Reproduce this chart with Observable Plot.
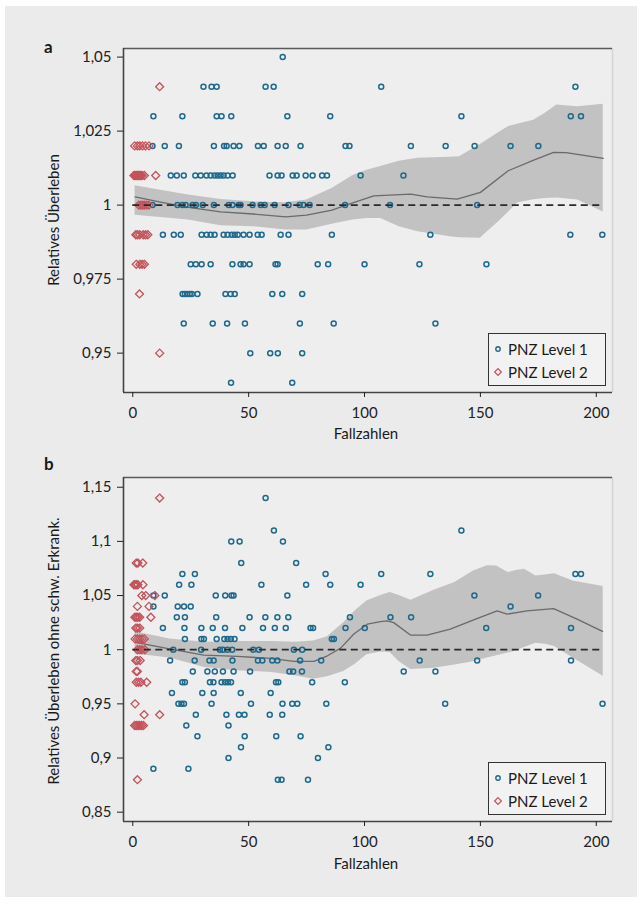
<!DOCTYPE html>
<html>
<head>
<meta charset="utf-8">
<script src="https://cdn.jsdelivr.net/npm/d3@7"></script>
<script src="https://cdn.jsdelivr.net/npm/@observablehq/plot@0.6"></script>
<style>
  html, body { margin: 0; padding: 0; background: #ffffff; }
  #root { position: relative; width: 642px; height: 903px; font-family: Lato, "Open Sans", sans-serif; color: #1a1a1a; overflow: hidden; }
  #bg { position: absolute; left: 5px; top: 6px; width: 632px; height: 891px; background: #ebebeb; }
  .panel { position: absolute; left: 0; }
  .letter { position: absolute; font-weight: bold; font-size: 17px; line-height: 1; }
  .ylab { position: absolute; font-size: 15px; white-space: nowrap; transform: translate(-50%, -50%) rotate(-90deg); }
  .xlab { position: absolute; font-size: 15px; white-space: nowrap; transform: translate(-50%, -50%); }
  .legend { position: absolute; width: 116px; height: 51px; border: 1.3px solid #333; background: #f2f2f2; }
  .legend .row { position: absolute; left: 0; height: 20px; display: flex; align-items: center; font-size: 15px; white-space: nowrap; }
  .legend svg { margin-left: 4px; margin-right: 5px; }
</style>
</head>
<body>
<div id="root">
  <div id="bg"></div>
</div>
<script>
// ---------- Panel a data ----------
// each row: [relative survival level, case counts ...]
const aLevel1 = [
  [1.05, 64.7],
  [1.04, 30.5, 34, 36.2, 57.3, 60.8, 107.2, 191],
  [1.03, 8.9, 21.4, 36.2, 38.3, 42.5, 66.7, 85.2, 141.8, 189, 193.4],
  [1.02, 8.5, 13.8, 19.9, 35, 39.4, 40.5, 43.5, 46, 54, 56.5, 62.5, 66, 72.4, 91.8, 93.5, 120, 135, 147.5, 163, 175],
  [1.01, 16.4, 19, 22, 27, 29.3, 31.8, 33.6, 35.3, 36.6, 37.9, 39.2, 40.9, 43.1, 59, 62.5, 64.2, 69, 70.7, 74.6, 77.6, 81.7, 83.8, 98.3, 116.8],
  [1.00, 8.5, 19.3, 21.5, 22.8, 25.8, 27.2, 30.2, 35, 41.4, 43, 45.7, 46.5, 51.7, 55.2, 56.9, 61.2, 67.2, 72, 73.7, 76.3, 91.6, 111, 148.6],
  [0.99, 13, 17.7, 20.7, 29.7, 31.9, 33.6, 35.3, 39.2, 40.9, 42.7, 44, 45.3, 47.8, 50.4, 53.9, 55.6, 63.8, 67.2, 85.9, 128.4, 188.8, 202.6],
  [0.98, 25, 27.2, 29.7, 33.6, 43, 46.5, 47.8, 50.4, 61.6, 62.5, 79.8, 84.3, 100, 123.7, 152.6],
  [0.97, 21.5, 22.5, 23.5, 24.6, 25.5, 27.9, 40, 42.2, 44, 60.2, 64.5, 73.1],
  [0.96, 22, 34.5, 40.7, 48.4, 72.1, 86.7, 130.6],
  [0.95, 50.7, 59.3, 62.6, 73.1],
  [0.94, 42.4, 68.8]
];
const aLevel2 = [
  [1.04, 11.6],
  [1.02, 0.8, 2, 3, 4.2, 5.5, 7],
  [1.01, 0.5, 1, 1.5, 2, 2.5, 3, 3.5, 4, 5, 9.9],
  [1.00, 2.6, 3.5, 4.3, 5, 6, 7],
  [0.99, 1.3, 2, 3, 4.5, 5.5, 6.5],
  [0.98, 1.5, 3, 4, 5],
  [0.97, 2.9],
  [0.95, 11.6]
];
const aBandX  = [1, 12, 24, 38, 52, 66, 75, 86, 95, 101, 107, 115, 123, 137, 141, 150, 153, 158, 162, 166, 173, 178, 183, 192, 203];
const aBandHi = [1.0065, 1.005, 1.0034, 1.0019, 1.0011, 1.0008, 1.0017, 1.0056, 1.0100, 1.0118, 1.013, 1.0148, 1.0158, 1.0162, 1.0163, 1.0205, 1.022, 1.0245, 1.0265, 1.0273, 1.0287, 1.031, 1.0338, 1.0332, 1.0341];
const aBandLo = [0.9966, 0.9958, 0.995, 0.993, 0.9927, 0.9916, 0.9916, 0.9935, 0.995, 0.9955, 0.9955, 0.9927, 0.991, 0.9893, 0.989, 0.9888, 0.991, 0.9945, 0.9975, 1.0007, 1.0018, 1.0022, 1.0024, 1.0017, 0.9977];
const aLineX = [1, 12, 24, 38, 52, 66, 75, 86, 92, 104, 120, 127, 140, 150, 162, 173, 181.6, 187, 203];
const aLineY = [1.0028, 1.001, 0.9992, 0.9977, 0.997, 0.996, 0.9966, 0.9983, 1.0, 1.0031, 1.0037, 1.0028, 1.002, 1.0043, 1.0116, 1.0152, 1.0178, 1.0177, 1.0158];
const aYTicks = [0.95, 0.975, 1, 1.025, 1.05];

// ---------- Panel b data ----------
const bLevel1 = [
  [1.14, 57.3],
  [1.11, 60.9, 141.8],
  [1.10, 42.5, 46.1, 64.8],
  [1.08, 46.8, 70.5],
  [1.07, 21.4, 26.8, 83.2, 107.2, 128.4, 191, 193.4],
  [1.06, 20, 25.3, 55.5, 74.8, 85.2, 98.3],
  [1.05, 8.9, 13.8, 35.8, 39.9, 42.6, 43.5, 66.7, 147.4, 174.9],
  [1.04, 8.9, 19.4, 22.1, 25, 163],
  [1.03, 19, 22.5, 36, 50.4, 57.2, 62.4, 67.1, 93.7, 111.2, 120.1],
  [1.02, 13, 22.3, 29.6, 34.5, 39.8, 47.3, 56.2, 61.3, 66, 76.7, 77.8, 91.8, 100.1, 152.5, 189.1],
  [1.01, 22.5, 29.6, 30.7, 36.2, 39.5, 40.9, 42.3, 43.9, 85.9, 86.8],
  [1.00, 17.5, 29.5, 37.6, 38.9, 40.8, 42.9, 52, 54.4, 69.5, 73.1],
  [0.99, 16.1, 26.7, 33.1, 34.9, 43, 54, 55.9, 60.2, 62.4, 72.2, 81.3, 123.8, 148.6, 189.1],
  [0.98, 25.9, 32.2, 35.4, 38.9, 43.5, 50.6, 67.6, 69.2, 73, 116.9, 130.6],
  [0.97, 21.4, 22.5, 33.3, 34.8, 38.3, 39.8, 41.1, 42.4, 61.8, 62.8, 77.4, 91.5],
  [0.96, 16.9, 30, 34.9, 46.6, 59.5],
  [0.95, 19.7, 21, 22.1, 34, 51, 64.6, 68.8, 71, 83.5, 134.8, 202.7],
  [0.94, 27.2, 40.4, 45.8, 48.2, 59.1, 64.5],
  [0.93, 23.1, 41.3],
  [0.92, 27.9, 48.3, 61.9, 72.4],
  [0.91, 46.7, 84.4],
  [0.90, 41.3, 79.9],
  [0.89, 8.9, 24],
  [0.88, 62.6, 64.2, 75.6]
];
const bLevel2 = [
  [1.14, 11.6],
  [1.08, 1.5, 2.2, 4.3],
  [1.06, 0.5, 1, 1.5, 2.2, 4.4],
  [1.05, 3.9, 5.6, 9.5],
  [1.04, 2, 7],
  [1.03, 0.9, 1.5, 2.2, 3, 7.8],
  [1.02, 1.3, 2, 3],
  [1.01, 1, 2, 3, 4, 5],
  [1.00, 2, 3, 4, 5.2],
  [0.99, 1.3, 2, 3.2],
  [0.98, 1.5, 2],
  [0.97, 1.5, 2.5, 3.5, 6],
  [0.95, 1],
  [0.94, 4.9, 11.6],
  [0.93, 0.8, 1.5, 2.3, 3, 3.8, 4.6],
  [0.88, 2]
];
const bBandX  = [1, 16, 31, 45, 60, 70, 78, 84, 91, 96, 101, 107, 111, 115, 120, 130, 139, 147, 153, 157, 162, 165, 169, 174, 178, 182, 190, 203];
const bBandHi = [1.0167, 1.0099, 1.0068, 1.0075, 1.0075, 1.007, 1.008, 1.012, 1.025, 1.036, 1.045, 1.05, 1.0528, 1.05, 1.0457, 1.055, 1.062, 1.0727, 1.0775, 1.0773, 1.0712, 1.073, 1.0742, 1.068, 1.069, 1.0702, 1.0635, 1.0583];
const bBandLo = [0.996, 0.9923, 0.9836, 0.9806, 0.979, 0.976, 0.9728, 0.975, 0.98, 0.9865, 0.9954, 0.998, 0.9975, 0.989, 0.9817, 0.983, 0.986, 0.989, 0.9924, 0.9945, 0.997, 0.9985, 1.002, 1.006, 1.005, 1.003, 0.9924, 0.9756];
const bLineX = [1.3, 16.4, 30.7, 45.1, 59.5, 69.5, 78.2, 84, 89.7, 95.4, 101.2, 106.9, 109.8, 112.6, 119.8, 127, 137, 147.1, 157.2, 161.5, 170.1, 181.6, 191.7, 202.7];
const bLineY = [1.0068, 1.0006, 0.995, 0.9938, 0.992, 0.9892, 0.9892, 0.9944, 1.0015, 1.0145, 1.0236, 1.026, 1.0267, 1.025, 1.0135, 1.0135, 1.019, 1.0276, 1.0359, 1.0328, 1.0359, 1.038, 1.0282, 1.0169];
const bYTicks = [0.85, 0.9, 0.95, 1, 1.05, 1.1, 1.15];

const xTicks = [0, 50, 100, 150, 200];
const seriesNames = ["PNZ Level 1", "PNZ Level 2"];
const xTitle = "Fallzahlen";

// ---------- styling ----------
const BLUE = "#1f6a8c";
const RED = "#c4525a";
const BAND = "#c2c2c2";
const X_DOMAIN = [-4, 207];

const flat = rows => rows.flatMap(([y, ...xs]) => xs.map(x => ({x, y})));
const fmt = d => String(Math.round(d * 1000) / 1000).replace(".", ",");

function panel({lvl1, lvl2, bandX, bandHi, bandLo, lineX, lineY, yDomain, yTicks, height, marginTop, marginBottom}) {
  const band = bandX.map((x, i) => ({x, lo: bandLo[i], hi: bandHi[i]}));
  const line = lineX.map((x, i) => ({x, y: lineY[i]}));
  return Plot.plot({
    width: 642,
    height,
    marginLeft: 123,
    marginRight: 30,
    marginTop,
    marginBottom,
    style: {fontFamily: "Lato, 'Open Sans', sans-serif", fontSize: "15px", color: "#222", background: "transparent", overflow: "visible"},
    x: {domain: X_DOMAIN},
    y: {domain: yDomain},
    marks: [
      Plot.frame({fill: "#eeeeee", stroke: null}),
      Plot.areaY(band, {x: "x", y1: "lo", y2: "hi", fill: BAND}),
      Plot.lineY(line, {x: "x", y: "y", stroke: "#6a6a6a", strokeWidth: 1.3}),
      Plot.dot(flat(lvl1), {x: "x", y: "y", r: 2.5, stroke: BLUE, strokeWidth: 1.5, fill: "none"}),
      Plot.dot(flat(lvl2), {x: "x", y: "y", symbol: "diamond2", r: 3.6, stroke: RED, strokeWidth: 1.3, fill: "none"}),
      Plot.ruleY([1], {x1: 0, x2: 203, stroke: "#2a2a2a", strokeWidth: 1.8, strokeDasharray: "7,4.5"}),
      Plot.ruleX([X_DOMAIN[1]], {stroke: "#d4d4d4", strokeWidth: 1.5}),
      Plot.ruleY([yDomain[1]], {stroke: "#5a5a5a", strokeWidth: 1.6}),
      Plot.ruleY([yDomain[0]], {stroke: "#444", strokeWidth: 1.6}),
      Plot.ruleX([X_DOMAIN[0]], {stroke: "#444", strokeWidth: 1.6}),
      Plot.axisY({ticks: yTicks, tickFormat: fmt, tickSize: 6, tickPadding: 6, label: null, fontSize: 15}),
      Plot.axisX({ticks: xTicks, tickFormat: d => String(d), tickSize: 5, tickPadding: 10, label: null, fontSize: 15})
    ]
  });
}

const root = document.getElementById("root");

function addPanel(svg, top) {
  svg.classList.add("panel");
  svg.style.top = top + "px";
  root.appendChild(svg);
}

addPanel(panel({
  lvl1: aLevel1, lvl2: aLevel2, bandX: aBandX, bandHi: aBandHi, bandLo: aBandLo,
  lineX: aLineX, lineY: aLineY, yDomain: [0.9367, 1.0529], yTicks: aYTicks,
  height: 450, marginTop: 48, marginBottom: 58
}), 0);

addPanel(panel({
  lvl1: bLevel1, lvl2: bLevel2, bandX: bBandX, bandHi: bBandHi, bandLo: bBandLo,
  lineX: bLineX, lineY: bLineY, yDomain: [0.8414, 1.159], yTicks: bYTicks,
  height: 453, marginTop: 27, marginBottom: 82
}), 450);

function addText(cls, text, left, top) {
  const d = document.createElement("div");
  d.className = cls;
  d.textContent = text;
  d.style.left = left + "px";
  d.style.top = top + "px";
  root.appendChild(d);
  return d;
}

addText("letter", "a", 44, 38);
addText("letter", "b", 44, 455);
addText("ylab", "Relatives Überleben", 53, 220);
addText("ylab", "Relatives Überleben ohne schw. Erkrank.", 53, 651);
addText("xlab", xTitle, 366, 433);
addText("xlab", xTitle, 366, 863);

function legend(left, top) {
  const box = document.createElement("div");
  box.className = "legend";
  box.style.left = left + "px";
  box.style.top = top + "px";
  const icons = [
    `<svg width="10" height="10" viewBox="-5 -5 10 10"><circle r="2.2" fill="none" stroke="${BLUE}" stroke-width="1.4"/></svg>`,
    `<svg width="10" height="10" viewBox="-5 -5 10 10"><path d="M0,-3.4L3.4,0L0,3.4L-3.4,0Z" fill="none" stroke="${RED}" stroke-width="1.2"/></svg>`
  ];
  seriesNames.forEach((name, i) => {
    const row = document.createElement("div");
    row.className = "row";
    row.style.top = (5 + i * 23.3) + "px";
    row.innerHTML = icons[i] + "<span></span>";
    row.querySelector("span").textContent = name;
    box.appendChild(row);
  });
  root.appendChild(box);
}
legend(488, 333);
legend(488, 762);
</script>
</body>
</html>
